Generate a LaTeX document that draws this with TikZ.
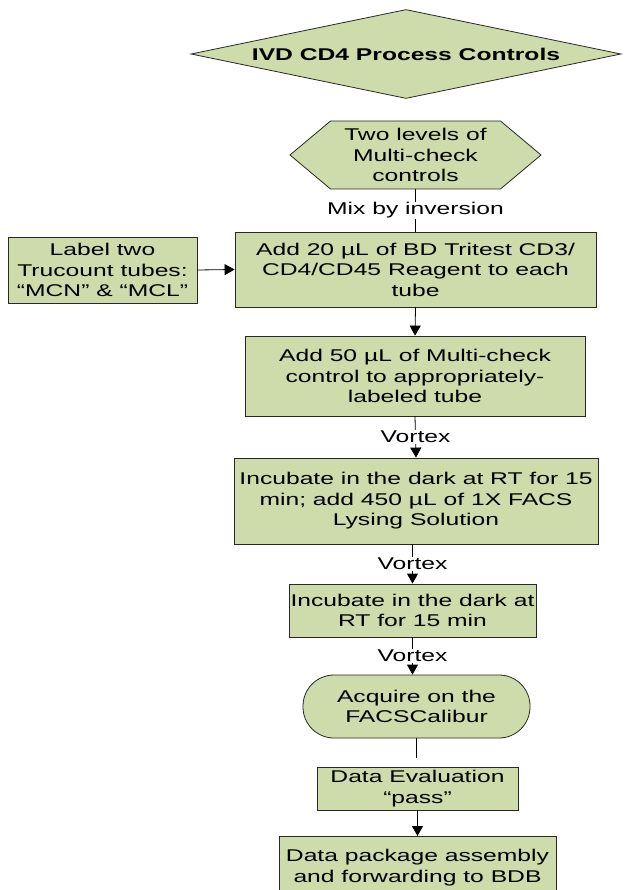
\documentclass[tikz,border=0pt]{standalone}
\usepackage{fontspec}
\setmainfont{Liberation Sans}[FakeStretch=1.45]
\usetikzlibrary{shapes.geometric,shapes.symbols,arrows.meta}
\definecolor{boxgreen}{RGB}{205,220,170}
\definecolor{edgegray}{RGB}{40,40,40}
\newcommand{\mainsize}{\fontsize{17pt}{20.5pt}\selectfont}
\begin{document}
\begin{tikzpicture}[x=1pt,y=-1pt,
  box/.style={draw=edgegray, fill=boxgreen, line width=0.8pt, align=center, inner sep=0pt, font=\mainsize},
  lbl/.style={fill=white, inner sep=1pt, font=\mainsize},
  arr/.style={-{Triangle[length=10pt,width=11pt]}, line width=0.8pt, draw=black},
  con/.style={line width=0.8pt, draw=black}]
\useasboundingbox (0,0) rectangle (632,890);
\fill[white] (0,0) rectangle (632,890);

% title diamond
\node[box, shape=diamond, aspect=4.83, minimum width=430pt, minimum height=89pt, font=\mainsize\bfseries] (title) at (406,54) {IVD CD4 Process Controls};

% hexagon
\node[box, shape=signal, signal to=east and west, signal from=nowhere, signal pointer angle=80,
      minimum width=251pt, minimum height=68pt] (hex) at (415.5,155) {Two levels of\\Multi-check\\controls};

% side label box
\node[box, minimum width=189pt, minimum height=66pt] (lab) at (102.5,270) {Label two\\Trucount tubes:\\“MCN” \& “MCL”};

% reagent box
\node[box, minimum width=361pt, minimum height=75pt] (reag) at (415.5,269.5) {Add 20 µL of BD Tritest CD3/\\CD4/CD45 Reagent to each\\tube};

% control box
\node[box, minimum width=340pt, minimum height=80pt] (ctrl) at (415,376) {Add 50 µL of Multi-check\\control to appropriately-\\labeled tube};

% incubate + lyse
\node[box, minimum width=364pt, minimum height=86pt] (lyse) at (416,501) {Incubate in the dark at RT for 15\\min; add 450 µL of 1X FACS\\Lysing Solution};

% incubate
\node[box, minimum width=247pt, minimum height=53pt] (inc) at (412.5,610.5) {Incubate in the dark at\\RT for 15 min};

% acquire (stadium)
\node[box, rounded corners=31pt, minimum width=227pt, minimum height=63pt] (acq) at (416.5,706.5) {Acquire on the\\FACSCalibur};

% data evaluation
\node[box, minimum width=201pt, minimum height=43pt] (eval) at (417.5,788.5) {Data Evaluation\\“pass”};

% data package
\node[box, anchor=north, minimum width=277pt, minimum height=62pt] (pkg) at (417.5,836) {Data package assembly\\and forwarding to BDB};

\coordinate (acqend) at (416.5,758);

% connectors
\draw[con] (hex.south) -- node[lbl] {Mix by inversion} (reag.north);
\draw[arr] (lab.east) -- (reag.west);
\draw[arr] (reag.south) -- (ctrl.north);
\draw[arr] (ctrl.south) -- node[lbl] {Vortex} (lyse.north);
\draw[arr] (lyse.south -| inc.north) -- node[lbl] {Vortex} (inc.north);
\draw[arr] (inc.south) -- node[lbl] {Vortex} (inc.south |- acq.north);
\draw[con] (acq.south) -- (acqend);
\draw[arr] (eval.south) -- (eval.south |- pkg.north);
\end{tikzpicture}
\end{document}
